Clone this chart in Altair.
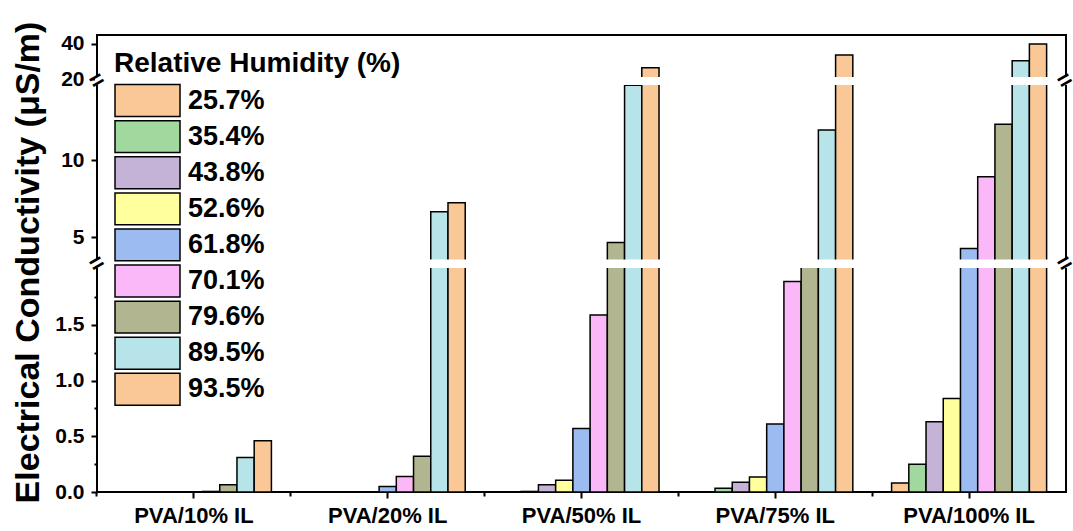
import altair as alt
import pandas as pd

FONT = "Liberation Sans"

groups = ["PVA/10% IL", "PVA/20% IL", "PVA/50% IL", "PVA/75% IL", "PVA/100% IL"]
humidity = ["25.7%", "35.4%", "43.8%", "52.6%", "61.8%", "70.1%", "79.6%", "89.5%", "93.5%"]
colors = ["#FAC896", "#A0D89E", "#C4B2D7", "#FFFF9E", "#9CBBF1",
          "#FBB8F8", "#B1B690", "#B6E4E9", "#FAC896"]

# electrical conductivity (uS/m), one value per relative humidity level
pva10 = [0, 0, 0, 0, 0, 0.005, 0.066, 0.31, 0.46]
pva20 = [0, 0, 0, 0, 0.05, 0.14, 0.32, 6.28, 6.81]
pva50 = [0, 0.005, 0.066, 0.105, 0.57, 1.59, 4.77, 19.6, 26.4]
pva75 = [0, 0.033, 0.087, 0.135, 0.61, 1.89, 3.0, 13.1, 33.6]
pva100 = [0.08, 0.25, 0.63, 0.84, 4.52, 8.6, 13.8, 30.4, 39.9]

series = [pva10, pva20, pva50, pva75, pva100]
rows = []
for g, vals in zip(groups, series):
    for h, v in zip(humidity, vals):
        rows.append({"group": g, "rh": h, "v": v})
df = pd.DataFrame(rows)
one = pd.DataFrame({"k": [0]})

W, H = 969, 457

x_scale = alt.Scale(domain=groups, paddingInner=0.2, paddingOuter=0.1)
main_x_axis = alt.Axis(orient="bottom", labelFontSize=22, labelPadding=7, tickSize=6,
                       labelAngle=0, domain=False)
minor_x_axis = alt.Axis(orient="bottom", bandPosition=-0.125, labels=False, tickSize=4,
                        domain=False)


def xenc(axis):
    return alt.X("group:N", sort=groups, scale=x_scale, axis=axis, title=None)


xoff = alt.XOffset("rh:N", sort=humidity,
                   scale=alt.Scale(domain=humidity, paddingInner=0, paddingOuter=0))

color = alt.Color(
    "rh:N", sort=humidity, scale=alt.Scale(domain=humidity, range=colors),
    legend=alt.Legend(
        title="Relative Humidity (%)", orient="none", legendX=17, legendY=15,
        titleFont=FONT, titleFontSize=28, titleFontWeight="bold", titleColor="black",
        titlePadding=5, titleLimit=500,
        labelFont=FONT, labelFontSize=27, labelFontWeight="bold", labelColor="black",
        labelOffset=7, labelBaseline="middle", clipHeight=35,
        symbolType="M-1,-0.49H1V0.49H-1Z", symbolSize=4225,
        symbolStrokeColor="black", symbolStrokeWidth=1.5, rowPadding=1.1, padding=0,
    ),
)

left_axis_common = dict(orient="left", tickSize=6, labelPadding=7, labelFontSize=21, domain=False)

bars = alt.Chart(df).mark_bar(stroke="black", strokeWidth=1.5)

# bottom segment 0 - 2
low = bars.encode(
    x=xenc(main_x_axis), xOffset=xoff, color=color,
    y=alt.Y("v:Q", scale=alt.Scale(domain=[0, 2.02], range=[H, 232], clamp=True,
                                   nice=False, zero=False),
            axis=alt.Axis(values=[0, 0.5, 1.0, 1.5], format=".1f",
                          title="Electrical Conductivity (μS/m)",
                          titleFont=FONT, titleFontSize=34, titleFontWeight="bold",
                          titleColor="black", titleAngle=270, titleAlign="center",
                          titleBaseline="alphabetic", titleX=-59, titleY=227,
                          **left_axis_common)),
    y2=alt.datum(0),
)

# middle segment 4 - 20 (log)
mid = bars.transform_filter(alt.datum.v > 4).encode(
    x=xenc(None), xOffset=xoff, color=color,
    y=alt.Y("v:Q", scale=alt.Scale(type="log", domain=[4, 20], range=[227, 48], clamp=True,
                                   nice=False),
            axis=alt.Axis(values=[5, 10], title=None, **left_axis_common)),
    y2=alt.datum(4),
)

# top segment 20 - 45
top = bars.transform_filter(alt.datum.v > 20).encode(
    x=xenc(None), xOffset=xoff, color=color,
    y=alt.Y("v:Q", scale=alt.Scale(domain=[20, 45], range=[44, 0], clamp=True,
                                   nice=False, zero=False),
            axis=alt.Axis(values=[20, 40], title=None, **left_axis_common)),
    y2=alt.datum(20),
)

# minor ticks
minor_y = alt.Chart(df).mark_point(opacity=0).encode(
    y=alt.Y("v:Q", scale=alt.Scale(domain=[0, 2.02], range=[H, 232], clamp=True,
                                   nice=False, zero=False),
            axis=alt.Axis(orient="left", values=[0.25, 0.75, 1.25, 1.75], labels=False,
                          tickSize=3, domain=False, title=None)),
)
minor_x = alt.Chart(df).mark_point(opacity=0).encode(x=xenc(minor_x_axis))


def gap(y0, y1):
    return alt.Chart(one).mark_rect(color="white").encode(
        x=alt.value(-2), x2=alt.value(W + 2), y=alt.value(y0), y2=alt.value(y1))


def brk(xp, yp):
    return alt.Chart(one).mark_text(text="=", angle=330, fontSize=24, fontWeight="bold",
                                    font=FONT, color="black", align="center",
                                    baseline="middle").encode(
        x=alt.value(xp), y=alt.value(yp))


chart = alt.layer(
    low, mid, top, minor_y, minor_x,
    gap(224.5, 233), gap(42, 50),
    brk(0, 229), brk(W - 1, 229), brk(0, 46), brk(W - 1, 46),
).resolve_scale(y="independent").resolve_axis(y="independent", x="independent").properties(
    width=W, height=H,
    autosize=alt.AutoSizeParams(type="none"),
    padding={"left": 97, "top": 35, "right": 7, "bottom": 39},
).configure_view(stroke="black", strokeWidth=2).configure_axis(
    labelFont=FONT, labelFontWeight="bold", labelColor="black",
    tickColor="black", tickWidth=2, grid=False,
)

chart.save("out.html", embed_options={"renderer": "svg", "actions": False})
